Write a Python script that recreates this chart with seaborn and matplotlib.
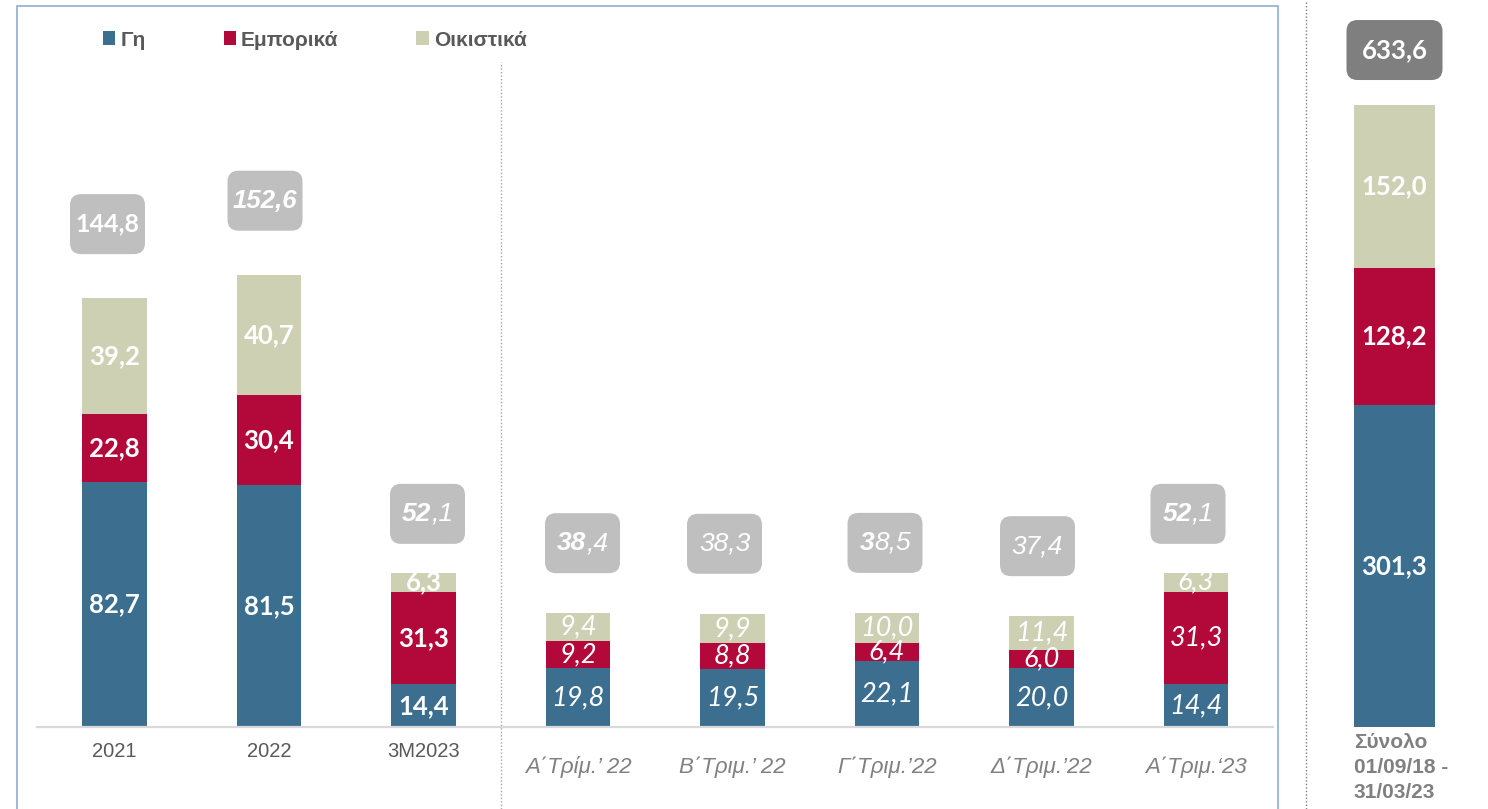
import numpy as np
import matplotlib
matplotlib.use("Agg")
import matplotlib.pyplot as plt
import seaborn as sns
from matplotlib.patches import Patch, FancyBboxPatch, Rectangle
from matplotlib.lines import Line2D
from matplotlib.transforms import Affine2D, ScaledTranslation
from matplotlib.offsetbox import TextArea, HPacker, AnnotationBbox

# ---- data -------------------------------------------------------------
categories = ["2021", "2022", "3M2023",
              "Α΄Τρίμ.’ 22", "Β΄Τριμ.’ 22", "Γ΄Τριμ.’22", "Δ΄Τριμ.’22", "Α΄Τριμ.‘23"]
land = [82.7, 81.5, 14.4, 19.8, 19.5, 22.1, 20.0, 14.4]
commercial = [22.8, 30.4, 31.3, 9.2, 8.8, 6.4, 6.0, 31.3]
residential = [39.2, 40.7, 6.3, 9.4, 9.9, 10.0, 11.4, 6.3]
period_totals = [144.8, 152.6, 52.1, 38.4, 38.3, 38.5, 37.4, 52.1]

series_names = ["Γη", "Εμπορικά", "Οικιστικά"]

overall_label = "Σύνολο\n01/09/18 -\n31/03/23"
overall_land = [301.3]
overall_commercial = [128.2]
overall_residential = [152.0]
overall_total = 633.6

# ---- styling ----------------------------------------------------------
BLUE, RED, BEIGE = "#3b6e8f", "#b3083a", "#ced0b4"
BADGE, BADGE_DARK = "#bfbfbf", "#7f7f7f"
W, H = 1488, 809

# number of leading characters set in bold within each total badge
badge_bold_chars = [5, 5, 2, 2, 0, 1, 0, 2]
badge_italic = [False, True, True, True, True, True, True, True]
badge_family = ["Lato"] + ["Liberation Sans"] * 7
badge_size = [18, 18.5, 19, 19, 19, 19, 19, 19]
badge_dx = [-7, -4, 4, 4.5, -8, -2, -4, -8]
badge_dy = [74, 74, 59, 70, 70, 70, 70, 59]

sns.set_theme(style="white")
plt.rcParams["font.family"] = ["Liberation Sans", "DejaVu Sans"]


def fx(px):
    return px / W


def fy(py):
    return 1 - py / H


def fmt(v):
    return f"{v:.1f}".replace(".", ",")


def badge(axis, x, y, text, n_bold, italic, family, size, dx, dy, width, fc):
    anchor = ScaledTranslation(x, y, axis.transData)
    box = FancyBboxPatch((dx - width / 2, dy - 30), width, 60,
                         boxstyle="round,pad=0,rounding_size=11",
                         transform=Affine2D() + anchor, fc=fc, ec="none",
                         clip_on=False, zorder=3)
    axis.add_artist(box)
    style = "italic" if italic else "normal"
    parts = []
    if n_bold > 0:
        parts.append(TextArea(text[:n_bold], textprops=dict(
            color="white", fontsize=size, fontweight="bold", fontstyle=style, family=family)))
    if n_bold < len(text):
        parts.append(TextArea(text[n_bold:], textprops=dict(
            color="white", fontsize=size, fontweight="normal", fontstyle=style, family=family)))
    pack = HPacker(children=parts, align="baseline", pad=0, sep=0)
    ab = AnnotationBbox(pack, (x, y), xybox=(dx, dy), xycoords="data",
                        boxcoords="offset pixels", frameon=False,
                        box_alignment=(0.5, 0.5), zorder=4, annotation_clip=False)
    axis.add_artist(ab)


fig = plt.figure(figsize=(W / 100, H / 100), dpi=100)

# ---- main panel ------------------------------------------------------
base_px = 727
top_px = 62
px_per_unit = 2.964
ax = fig.add_axes([fx(37.25), fy(base_px), fx(1273.25) - fx(37.25), (base_px - top_px) / H])
ymax = (base_px - top_px) / px_per_unit

c1 = np.array(land)
c2 = c1 + np.array(commercial)
c3 = c2 + np.array(residential)
for heights, col in [(c3, BEIGE), (c2, RED), (c1, BLUE)]:
    sns.barplot(x=categories, y=heights, color=col, saturation=1, width=0.42,
                errorbar=None, linewidth=0, ax=ax)

ax.set_xlim(-0.5, 7.5)
ax.set_ylim(0, ymax)
ax.set_yticks([])
ax.set_ylabel("")
for s in ["left", "right", "top"]:
    ax.spines[s].set_visible(False)
ax.spines["bottom"].set_color("#d9d9d9")
ax.spines["bottom"].set_linewidth(1.6)
ax.tick_params(axis="x", length=0, labelsize=14.5, pad=11)
for i, (lab, tick) in enumerate(zip(ax.get_xticklabels(), ax.xaxis.get_major_ticks())):
    if i < 3:
        lab.set_color("#595959")
    else:
        lab.set_color("#808080")
        lab.set_fontstyle("italic")
        lab.set_fontsize(16)
        tick.set_pad(21)

# segment values
for i in range(len(categories)):
    annual = i < 3
    props = dict(color="white", family="Lato",
                 fontsize=18.5 if annual else 19.5,
                 fontweight="bold" if annual else "normal",
                 fontstyle="normal" if annual else "italic",
                 ha="center", va="center", zorder=5)
    bottoms = [0, c1[i], c2[i]]
    for b, v in zip(bottoms, [land[i], commercial[i], residential[i]]):
        ax.text(i, b + v / 2, fmt(v), **props)
    badge(ax, i, c3[i], fmt(period_totals[i]), badge_bold_chars[i], badge_italic[i],
          badge_family[i], badge_size[i], badge_dx[i], badge_dy[i], 75, BADGE)

# separator between annual and quarterly figures
ax.plot([2.5, 2.5], [-(H - base_px) / px_per_unit, ymax], ls=(0, (1, 1.5)),
        color="#a6a6a6", lw=1, clip_on=False)

# ---- overall panel ---------------------------------------------------
ax2 = fig.add_axes([fx(1318), fy(base_px), fx(1471) - fx(1318), base_px / H])
px_per_unit2 = 1.0696
o1 = np.array(overall_land)
o2 = o1 + np.array(overall_commercial)
o3 = o2 + np.array(overall_residential)
for heights, col in [(o3, BEIGE), (o2, RED), (o1, BLUE)]:
    sns.barplot(x=[overall_label], y=heights, color=col, saturation=1, width=81 / 153,
                errorbar=None, linewidth=0, ax=ax2)
ax2.set_xlim(-0.5, 0.5)
ax2.set_ylim(0, base_px / px_per_unit2)
ax2.set_xticks([])
ax2.set_yticks([])
ax2.set_ylabel("")
for s in ax2.spines.values():
    s.set_visible(False)
for b, v in zip([0, o1[0], o2[0]], [overall_land[0], overall_commercial[0], overall_residential[0]]):
    ax2.text(0, b + v / 2, fmt(v), color="white", fontsize=18.5, family="Lato",
             fontweight="bold", ha="center", va="center", zorder=5)
badge(ax2, 0, o3[0], fmt(overall_total), 5, False, "Lato", 18.5, 0, 55, 96, BADGE_DARK)
ax2.annotate(overall_label, xy=(-81 / 153 / 2, 0), xytext=(0, -6),
             textcoords="offset pixels", ha="left", va="top", fontsize=15,
             fontweight="bold", color="#808080", linespacing=1.4,
             annotation_clip=False)

# ---- frame, divider, legend -----------------------------------------
fig.add_artist(Rectangle((fx(17), -0.05), fx(1278) - fx(17), fy(6) + 0.05,
                         transform=fig.transFigure, fill=False, ec="#8eaecb", lw=1.2))
fig.add_artist(Line2D([fx(1306)] * 2, [0, 1], transform=fig.transFigure,
                      ls=(0, (1, 1.5)), color="#7f7f7f", lw=1))

handles = [Patch(fc=c, ec="none") for c in (BLUE, RED, BEIGE)]
fig.legend(handles, series_names, loc="center left", bbox_to_anchor=(fx(103), fy(40)),
           ncol=3, frameon=False, borderpad=0, borderaxespad=0,
           handlelength=0.58, handleheight=0.62, handletextpad=0.25, columnspacing=3.75,
           prop=dict(family="Liberation Sans", weight="bold", size=15),
           labelcolor="#595959")

fig.savefig("out.png", dpi=100)
